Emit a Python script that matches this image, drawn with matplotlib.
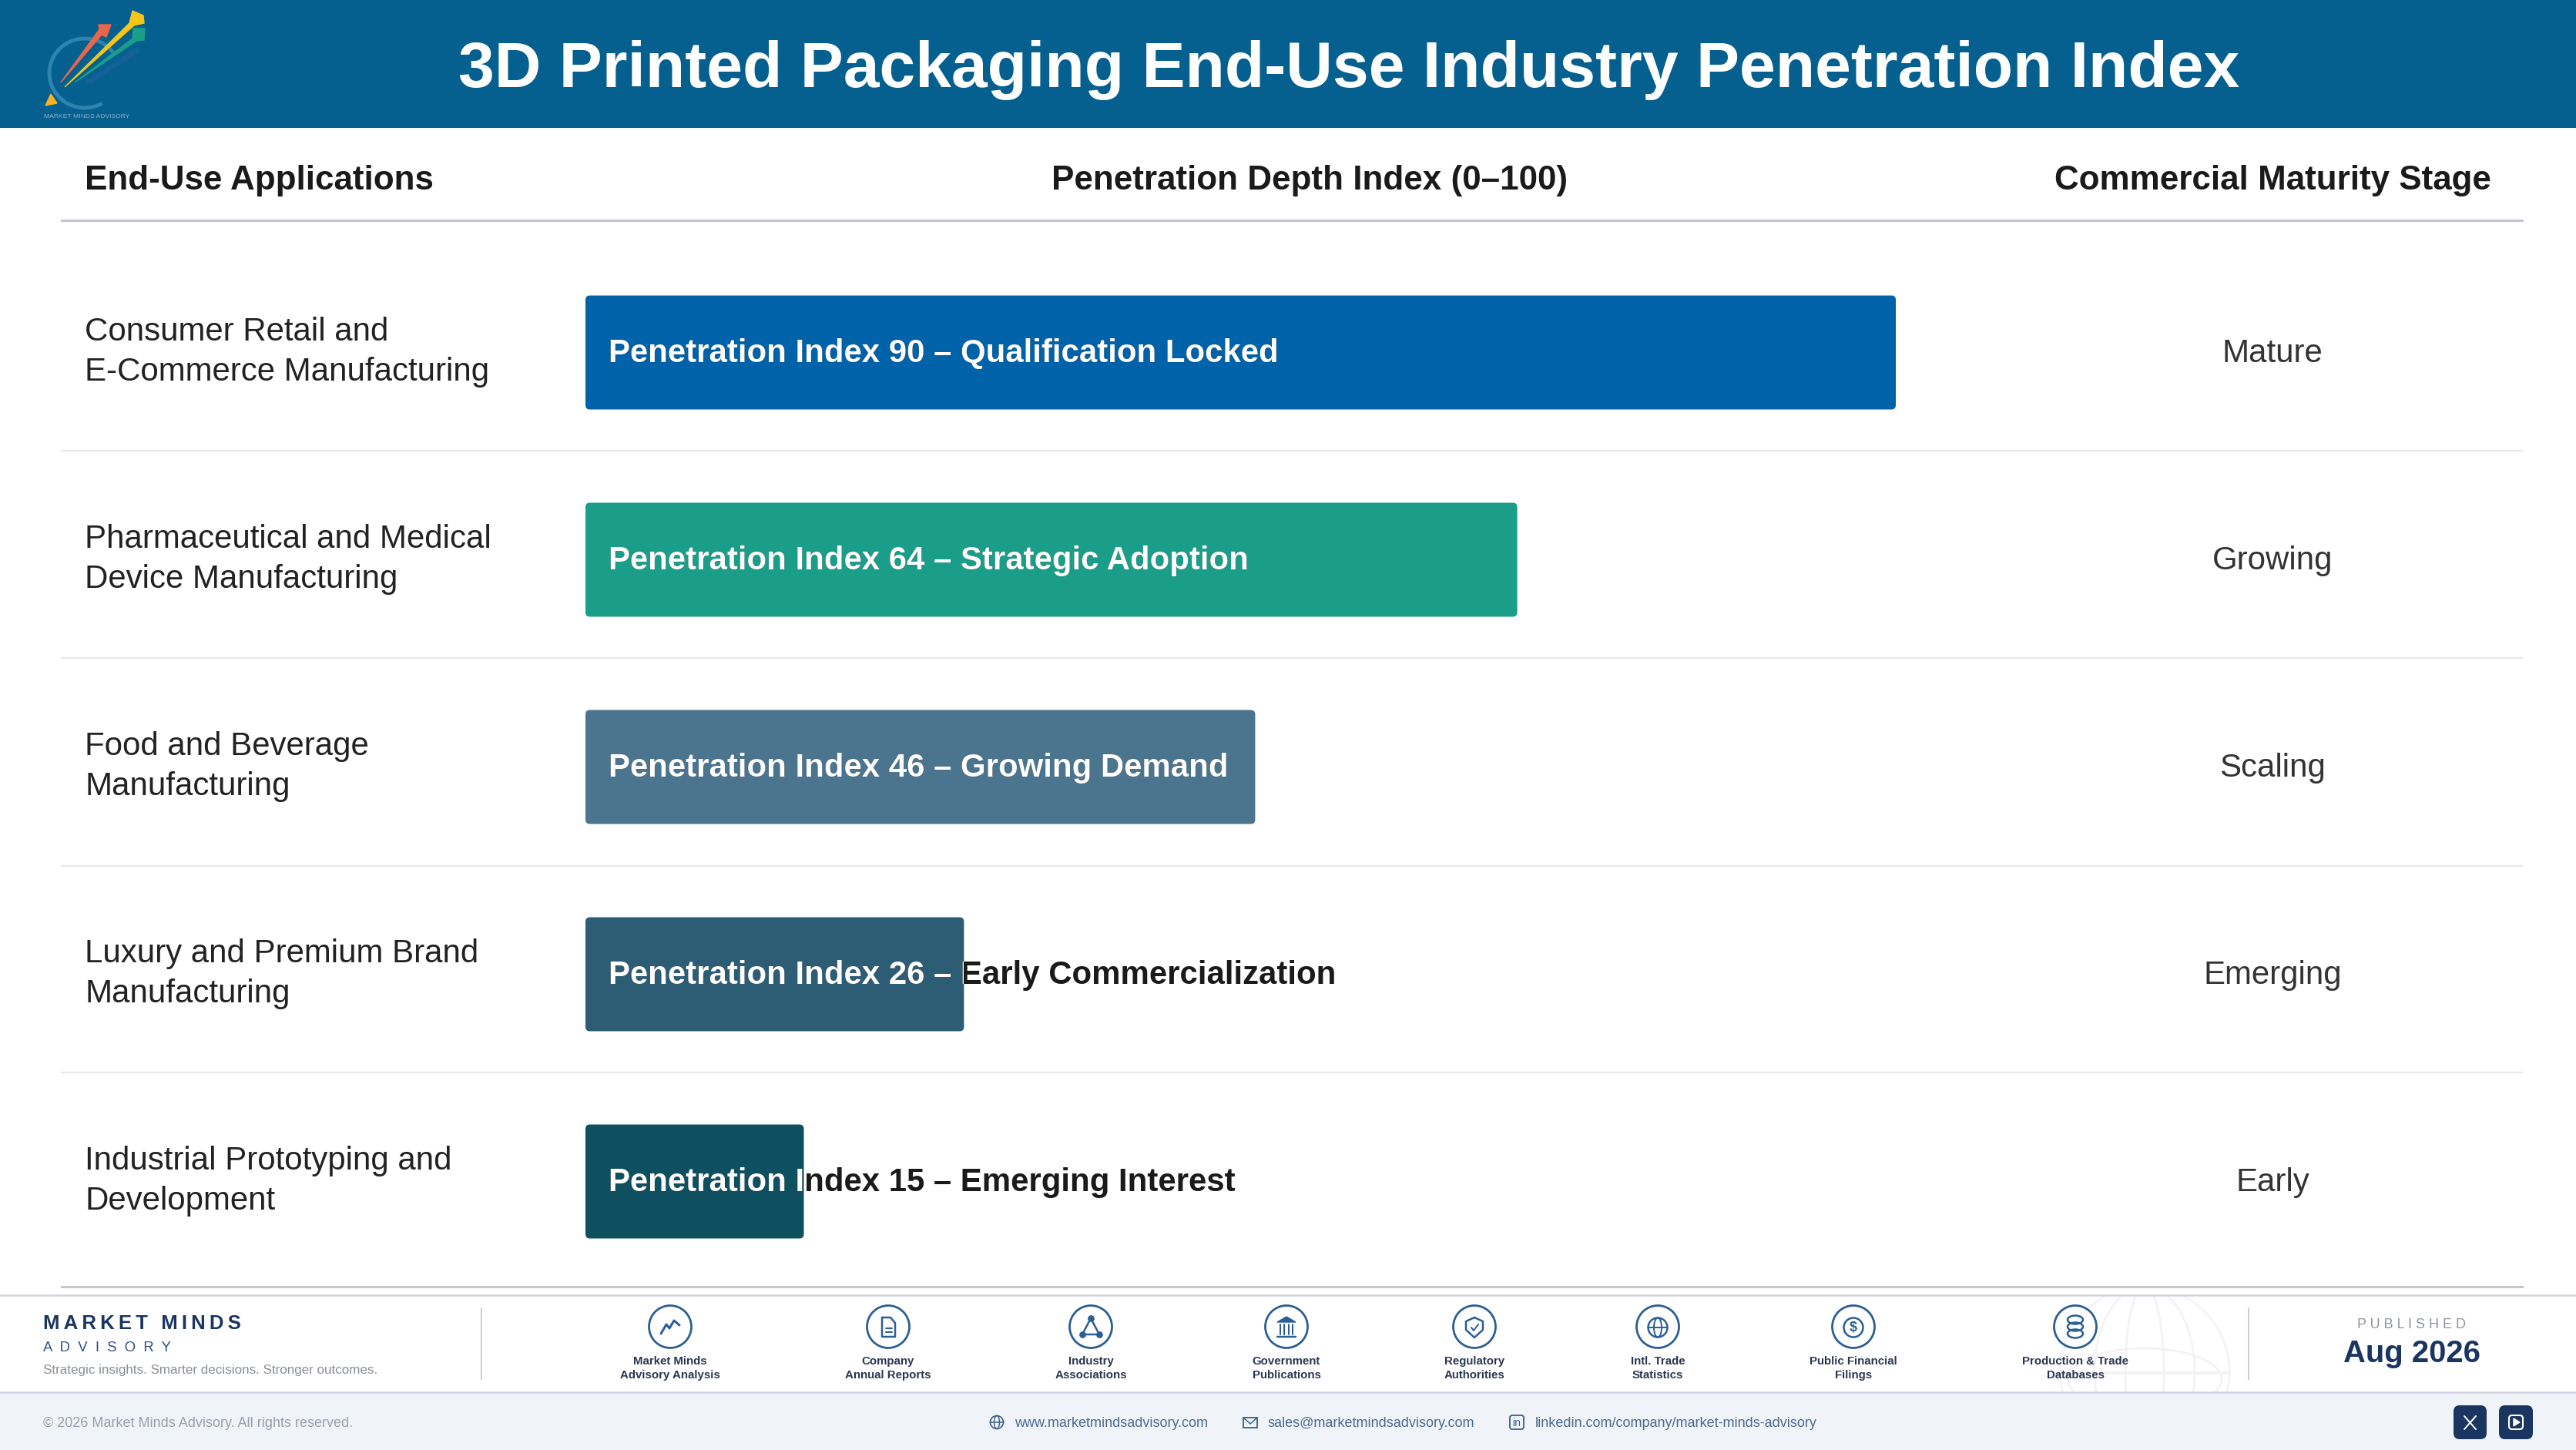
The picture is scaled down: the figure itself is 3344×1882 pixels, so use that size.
import matplotlib
matplotlib.use('Agg')
import matplotlib.pyplot as plt
from matplotlib.patches import FancyBboxPatch, Ellipse, Polygon, Rectangle, Arc
from matplotlib.transforms import Bbox, TransformedBbox

plt.rcParams['font.family'] = ['Liberation Sans', 'DejaVu Sans']

W, H = 3344, 1882

title = '3D Printed Packaging End-Use Industry Penetration Index'
headers = ['End-Use Applications', 'Penetration Depth Index (0–100)', 'Commercial Maturity Stage']

applications = ['Consumer Retail and\nE-Commerce Manufacturing',
                'Pharmaceutical and Medical\nDevice Manufacturing',
                'Food and Beverage\nManufacturing',
                'Luxury and Premium Brand\nManufacturing',
                'Industrial Prototyping and\nDevelopment']
index_values = [90, 64, 46, 26, 15]
index_notes = ['Qualification Locked', 'Strategic Adoption', 'Growing Demand',
               'Early Commercialization', 'Emerging Interest']
stages = ['Mature', 'Growing', 'Scaling', 'Emerging', 'Early']
bar_colors = ['#0062A8', '#1A9E8A', '#4B748F', '#2D5D75', '#0F5060']

sources = ['Market Minds\nAdvisory Analysis', 'Company\nAnnual Reports', 'Industry\nAssociations',
           'Government\nPublications', 'Regulatory\nAuthorities', 'Intl. Trade\nStatistics',
           'Public Financial\nFilings', 'Production & Trade\nDatabases']
source_x = [870, 1153, 1416, 1670, 1914, 2152, 2406, 2694]

NAVY = '#1A3560'
ICON = '#2C5F94'


def px(size):
    # font size given in image pixels
    return size * 0.72


def icon_line(ax, xs, ys, lw=3, color=ICON):
    ax.plot(xs, ys, color=color, lw=lw * 0.72, solid_capstyle='round', solid_joinstyle='round')


def draw_source_icon(ax, i, cx, cy):
    ax.add_patch(Ellipse((cx, cy), 55, 55, fill=False, ec=ICON, lw=2))
    if i == 0:
        icon_line(ax, [cx - 12, cx - 5, cx - 1, cx + 5, cx + 12],
                  [cy + 9, cy - 3, cy + 2, cy - 8, cy - 2])
    elif i == 1:
        icon_line(ax, [cx - 8, cx + 3, cx + 9, cx + 9, cx - 8, cx - 8],
                  [cy - 12, cy - 12, cy - 5, cy + 13, cy + 13, cy - 12], lw=2.5)
        icon_line(ax, [cx - 3, cx + 5], [cy + 2, cy + 2], lw=2)
        icon_line(ax, [cx - 3, cx + 5], [cy + 7, cy + 7], lw=2)
    elif i == 2:
        icon_line(ax, [cx, cx - 11, cx + 11, cx], [cy - 11, cy + 10, cy + 10, cy - 11], lw=2.5)
        ax.scatter([cx, cx - 11, cx + 11], [cy - 11, cy + 10, cy + 10], s=28, color=ICON, zorder=3)
    elif i == 3:
        ax.add_patch(Polygon([(cx - 12, cy - 6), (cx, cy - 13), (cx + 12, cy - 6)], color=ICON))
        for dx in (-8, -3, 3, 8):
            icon_line(ax, [cx + dx, cx + dx], [cy - 3, cy + 10], lw=2)
        icon_line(ax, [cx - 12, cx + 12], [cy + 13, cy + 13], lw=2.5)
    elif i == 4:
        icon_line(ax, [cx, cx + 11, cx + 11, cx, cx - 11, cx - 11, cx],
                  [cy - 12, cy - 7, cy + 4, cy + 14, cy + 4, cy - 7, cy - 12], lw=2.5)
        icon_line(ax, [cx - 4, cx - 1, cx + 5], [cy + 1, cy + 5, cy - 3], lw=2)
    elif i == 5:
        ax.add_patch(Ellipse((cx, cy + 1), 25, 25, fill=False, ec=ICON, lw=1.8))
        ax.add_patch(Ellipse((cx, cy + 1), 10, 25, fill=False, ec=ICON, lw=1.4))
        icon_line(ax, [cx - 12, cx + 12], [cy + 1, cy + 1], lw=2)
    elif i == 6:
        ax.add_patch(Ellipse((cx, cy + 1), 25, 25, fill=False, ec=ICON, lw=1.8))
        ax.text(cx, cy + 1, '$', fontsize=px(18), color=ICON, fontweight='bold', ha='center', va='center')
    else:
        for dy in (-9, 0, 9):
            ax.add_patch(Ellipse((cx, cy + dy), 20, 11, fill=False, ec=ICON, lw=1.8))


def draw_logo(ax):
    ax.add_patch(Arc((110, 95), 92, 90, theta1=60, theta2=330, color='#2D84AE', lw=3.5))
    ax.add_patch(Polygon([(110, 107), (178, 62), (181, 66), (118, 107)], color='#15609A'))
    ax.add_patch(Polygon([(97, 107), (172, 50), (173, 37), (188, 37), (187, 52), (177, 53)], color='#1A9E8A'))
    ax.add_patch(Polygon([(84, 113), (168, 30), (172, 14), (186, 20), (187, 30), (174, 33)], color='#F5C518'))
    ax.add_patch(Polygon([(79, 107), (129, 38), (128, 32), (144, 32), (138, 48), (132, 45)], color='#E8674A'))
    ax.add_patch(Polygon([(59, 137), (66, 122), (74, 134)], color='#F5B324'))
    ax.text(113, 151, 'MARKET MINDS ADVISORY', fontsize=px(8.5), color='#8DB0C8', ha='center', va='center')


def draw_globe(ax):
    band = Rectangle((2600, 1683), 400, 124, transform=ax.transData)
    parts = [Ellipse((2784, 1780), 220, 220), Ellipse((2784, 1780), 130, 220), Ellipse((2784, 1780), 50, 220),
             Ellipse((2784, 1790), 200, 80)]
    for p in parts:
        p.set(fill=False, ec='#F3F3F6', lw=2)
        ax.add_patch(p)
        p.set_clip_path(band)
    line = ax.plot([2674, 2894], [1782, 1782], color='#F3F3F6', lw=3)[0]
    line.set_clip_path(band)


fig = plt.figure(figsize=(W / 100, H / 100), dpi=100, facecolor='white')

# page furniture in image pixels
page = fig.add_axes([0, 0, 1, 1])
page.set_xlim(0, W)
page.set_ylim(H, 0)
page.axis('off')

page.add_patch(Rectangle((0, 0), W, 166, color='#05608F', lw=0))
draw_logo(page)
page.text(1751, 91, title, color='white', fontsize=px(84), fontweight='bold', ha='center', va='center')

page.text(110, 234, headers[0], color='#1A1A1A', fontsize=px(44), fontweight='bold', ha='left', va='center')
page.text(1700, 234, headers[1], color='#1A1A1A', fontsize=px(44), fontweight='bold', ha='center', va='center')
page.text(2950, 234, headers[2], color='#1A1A1A', fontsize=px(44), fontweight='bold', ha='center', va='center')
page.plot([80, 3274], [286, 286], color='#C5C5D0', lw=2.2)
page.plot([80, 3274], [1670, 1670], color='#C5C5D0', lw=2.2)
for y in [585, 854, 1124, 1392]:
    page.plot([80, 3274], [y, y], color='#E8E8EC', lw=1.6)

# footer
page.add_patch(Rectangle((0, 1807), W, H - 1807, color='#F0F4F9', lw=0))
page.plot([0, W], [1681, 1681], color='#D2D2E0', lw=1.8)
page.plot([0, W], [1807, 1807], color='#D2D2E0', lw=1.8)
draw_globe(page)
page.plot([625, 625], [1698, 1790], color='#CCCCD4', lw=1.4)
page.plot([2919, 2919], [1698, 1790], color='#CCCCD4', lw=1.4)

page.text(56, 1718, '\u2009'.join('MARKET MINDS'), color=NAVY, fontsize=px(25.7), fontweight='bold', va='center')
page.text(56, 1750, '  '.join('ADVISORY'), color='#2C5085', fontsize=px(18.5), va='center')
page.text(56, 1778, 'Strategic insights. Smarter decisions. Stronger outcomes.', color='#8A8F98', fontsize=px(17), va='center')

for i, (label, cx) in enumerate(zip(sources, source_x)):
    draw_source_icon(page, i, cx, 1722)
    top, bottom = label.split('\n')
    page.text(cx, 1767, top, color='#2A3550', fontsize=px(15), fontweight='bold', ha='center', va='center')
    page.text(cx, 1785, bottom, color='#2A3550', fontsize=px(15), fontweight='bold', ha='center', va='center')

page.text(3131, 1720, ' '.join('PUBLISHED'), color='#8F939C', fontsize=px(18), ha='center', va='center')
page.text(3131, 1757, 'Aug 2026', color=NAVY, fontsize=px(40), fontweight='bold', ha='center', va='center')

page.text(56, 1848, '© 2026 Market Minds Advisory. All rights reserved.', color='#9AA0AA', fontsize=px(18), va='center')
page.text(1317, 1848, 'www.marketmindsadvisory.com', color='#4A6A90', fontsize=px(18), va='center')
page.text(1646, 1848, 'sales@marketmindsadvisory.com', color='#4A6A90', fontsize=px(18), va='center')
page.text(1993, 1848, 'linkedin.com/company/market-minds-advisory', color='#4A6A90', fontsize=px(18), va='center')

# contact icons
page.add_patch(Ellipse((1294, 1846), 17, 17, fill=False, ec='#3A5F8A', lw=1.2))
page.add_patch(Ellipse((1294, 1846), 7, 17, fill=False, ec='#3A5F8A', lw=1))
icon_line(page, [1285, 1303], [1846, 1846], lw=1.5, color='#3A5F8A')
page.add_patch(Rectangle((1614, 1840), 18, 13, fill=False, ec='#3A5F8A', lw=1.3))
icon_line(page, [1614, 1623, 1632], [1840, 1848, 1840], lw=1.5, color='#3A5F8A')
page.add_patch(FancyBboxPatch((1960, 1837), 18, 18, boxstyle='round,pad=0,rounding_size=3', fill=False, ec='#3A5F8A', lw=1.3))
page.text(1969, 1847, 'in', color='#3A5F8A', fontsize=px(14), ha='center', va='center')

for x0, x1 in [(3185, 3228), (3244, 3288)]:
    page.add_patch(FancyBboxPatch((x0, 1824), x1 - x0, 44, boxstyle='round,pad=0,rounding_size=8', color=NAVY, lw=0))
icon_line(page, [3199, 3214], [1838, 1855], lw=2, color='white')
icon_line(page, [3214, 3199], [1838, 1855], lw=2, color='white')
page.add_patch(FancyBboxPatch((3257, 1837), 18, 18, boxstyle='round,pad=0,rounding_size=4', fill=False, ec='white', lw=1.5))
page.add_patch(Polygon([(3263, 1841), (3263, 1851), (3271, 1846)], color='white'))

# bars: 0-100 runs over 1890 px, rows are 269 px apart
chart = fig.add_axes([760 / W, 1 - 1668 / H, 1890 / W, 1345 / H])
chart.patch.set_alpha(0)
chart.set_xlim(0, 100)
chart.set_ylim(4.5, -0.5)
chart.axis('off')

bar_h = 0.55
radius = 0.3
aspect = (1 / 269) / (100 / 1890)
for row, value in enumerate(index_values):
    box = FancyBboxPatch((0, row - bar_h / 2), value, bar_h,
                         boxstyle=f'round,pad=0,rounding_size={radius}',
                         mutation_aspect=aspect, fc=bar_colors[row], ec='none', lw=0)
    chart.add_patch(box)
    label = f'Penetration Index {value} – {index_notes[row]}'
    y_text = row + 1.5 / 269
    chart.text(1.6, y_text, label, color='#1A1A1A', fontsize=px(42), fontweight='bold', va='center', clip_on=False)
    inner = chart.text(1.6, y_text, label, color='white', fontsize=px(42), fontweight='bold', va='center', clip_on=True)
    # the white copy only shows over the bar, the dark one carries on past its end
    inner.set_clip_box(TransformedBbox(Bbox([[0, row - bar_h / 2], [value, row + bar_h / 2]]), chart.transData))
    page.text(110, 457 + row * 269, applications[row], color='#222222', fontsize=px(42), va='center', ha='left', linespacing=1.37)
    page.text(2950, 459 + row * 269, stages[row], color='#333333', fontsize=px(42), va='center', ha='center')

fig.savefig('out.png', dpi=100)
plt.close()
